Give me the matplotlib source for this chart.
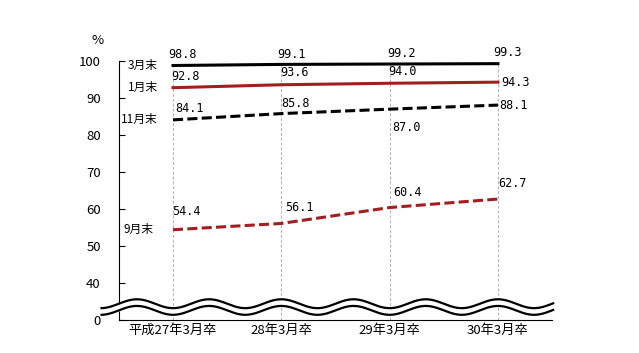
import matplotlib
matplotlib.use("Agg")
import matplotlib.pyplot as plt
import numpy as np

plt.rcParams['font.family'] = ['Noto Sans CJK JP', 'DejaVu Sans']

years = ["平成27年3月卒", "28年3月卒", "29年3月卒", "30年3月卒"]
series_names = ["3月末", "1月末", "11月末", "9月末"]
mar = [98.8, 99.1, 99.2, 99.3]
jan = [92.8, 93.6, 94.0, 94.3]
nov = [84.1, 85.8, 87.0, 88.1]
sep = [54.4, 56.1, 60.4, 62.7]
ytick_vals = [30, 40, 50, 60, 70, 80, 90, 100]
ytick_labels = ["0", "40", "50", "60", "70", "80", "90", "100"]

red = "#a31f1f"
x = np.arange(len(years))

fig = plt.figure(figsize=(6.39, 3.53), dpi=100)
ax = fig.add_axes([0.186, 0.0935, 0.678, 0.7335])

# vertical guide lines
for xi, top in zip(x, mar):
    ax.plot([xi, xi], [30, top], color="#b0b0b0", lw=0.7, ls=(0, (3, 2)), zorder=1)

ax.plot(x, mar, color="black", lw=2.2, zorder=3)
ax.plot(x, jan, color=red, lw=2.2, zorder=3)
ax.plot(x, nov, color="black", lw=2.2, ls=(0, (3.3, 1.4)), zorder=3)
ax.plot(x, sep, color=red, lw=2.2, ls=(0, (3.3, 1.4)), zorder=3)

# value labels: (dx px, dy px, ha)
px = 0.72
offs = {
    0: [(-5, 11, "left"), (-4, 10, "left"), (-2, 11, "left"), (-5, 11, "left")],
    1: [(-2, 11, "left"), (-1, 12, "left"), (-1, 12, "left"), (3, 0, "left")],
    2: [(2, 11, "left"), (0, 10, "left"), (3, -18, "left"), (1, 0, "left")],
    3: [(-1, 18, "left"), (4, 16, "left"), (4, 15, "left"), (0, 16, "left")],
}
for si, vals in enumerate([mar, jan, nov, sep]):
    for i, v in enumerate(vals):
        dx, dy, ha = offs[si][i]
        ax.annotate(f"{v:.1f}", (x[i], v), xytext=(dx * px, dy * px),
                    textcoords="offset points", ha=ha, va="center",
                    fontsize=8.5, family="DejaVu Sans Mono", zorder=5)

# series names
name_dx = [-15, -15, -15, -20]
for name, vals, dx in zip(series_names, [mar, jan, nov, sep], name_dx):
    ax.annotate(name, (x[0], vals[0]), xytext=(dx * px, 0), textcoords="offset points",
                ha="right", va="center", fontsize=8.5)

# axis break waves
wx = np.linspace(-0.66, 3.51, 600)
period = 2 / 3
wave = -1.2 * np.cos(2 * np.pi * wx / period)
up = 34.4 + wave
lo = 32.6 + wave
ax.fill_between(wx, lo, up, color="white", zorder=4, clip_on=False)
ax.plot(wx, up, color="black", lw=1.6, zorder=4, clip_on=False)
ax.plot(wx, lo, color="black", lw=1.6, zorder=4, clip_on=False)

ax.set_xlim(-0.5, 3.5)
ax.set_ylim(30, 100)
ax.set_xticks(x)
ax.set_xticklabels(years, fontsize=9.5)
ax.set_yticks(ytick_vals)
ax.set_yticklabels(ytick_labels, fontsize=9.5)
ax.tick_params(axis="x", length=0, pad=3)
ax.tick_params(axis="y", direction="in", length=4, pad=13, width=0.8)
for s in ["top", "right"]:
    ax.spines[s].set_visible(False)
ax.spines["left"].set_linewidth(0.8)
ax.spines["bottom"].set_linewidth(0.8)

fig.text(98 / 639, 1 - 41 / 353, "%", ha="center", va="center", fontsize=9.5)

fig.savefig("out.png", dpi=100)
